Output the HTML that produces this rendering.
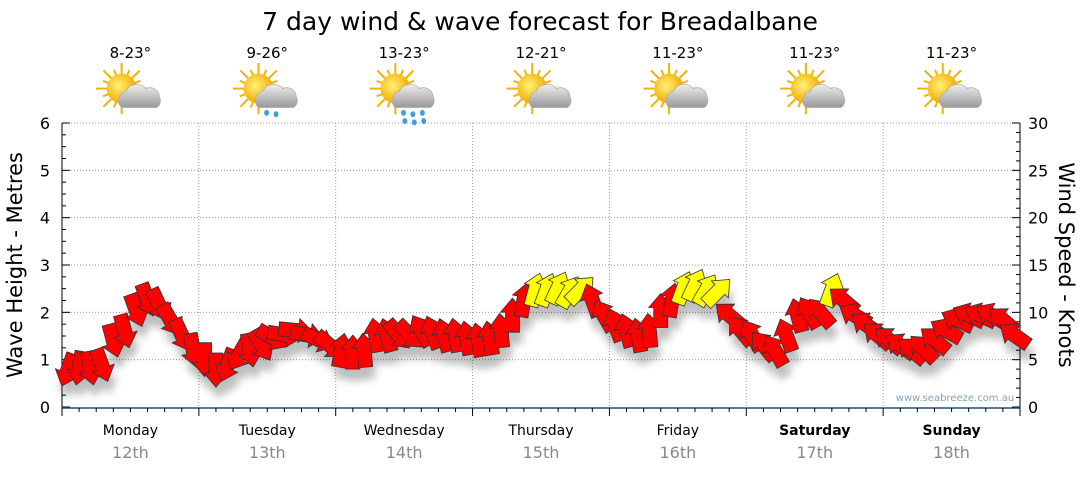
<!DOCTYPE html>
<html><head><meta charset="utf-8"><style>
body{margin:0;background:#fff;}
svg text{font-family:"DejaVu Sans","Liberation Sans",sans-serif;}
</style></head><body>
<svg id="chart" width="1080" height="475" viewBox="0 0 1080 475" xmlns="http://www.w3.org/2000/svg">
<defs>
<filter id="sh" x="-50%" y="-50%" width="200%" height="200%"><feGaussianBlur stdDeviation="4"/></filter>
<radialGradient id="sun" cx="0.4" cy="0.4" r="0.6"><stop offset="0" stop-color="#fff27a"/><stop offset="1" stop-color="#f2a900"/></radialGradient>
<linearGradient id="cloud" x1="0" y1="0" x2="0" y2="1"><stop offset="0" stop-color="#eee"/><stop offset="1" stop-color="#999"/></linearGradient>
</defs>
<text x="540" y="30" font-size="25" text-anchor="middle" fill="#000">7 day wind &amp; wave forecast for Breadalbane</text>
<g id="grid"></g>
<g id="axes"></g>
<g id="shadows" filter="url(#sh)" opacity="0.25"></g>
<g id="arrows"></g>
<g id="days"></g>
<text x="955" y="401" font-size="10" text-anchor="middle" fill="#8aa0b8">www.seabreeze.com.au</text>
<text transform="translate(22,265) rotate(-90)" font-size="21" text-anchor="middle" fill="#000">Wave Height - Metres</text>
<text transform="translate(1059,265) rotate(90)" font-size="21" text-anchor="middle" fill="#000">Wind Speed - Knots</text>
</svg>
<script>
const dayNames=["Monday","Tuesday","Wednesday","Thursday","Friday","Saturday","Sunday"];
const dayDates=["12th","13th","14th","15th","16th","17th","18th"];
const temps=["8-23°","9-26°","13-23°","12-21°","11-23°","11-23°","11-23°"];
const icons=["cloud","shower","rain","cloud","cloud","cloud","cloud"];
const waveTicks=[0,1,2,3,4,5,6];
const windTicks=[0,5,10,15,20,25,30];
// wind speed (knots), every 2 hours
const windSpeed=[
3.9,4.1,4.1,4.4,7,8,10.2,11.3,10.8,9.2,7.6,6,
5,3.9,4.4,5.5,6,6.5,7.3,7.6,8.1,7.6,7.1,6.5,
6,5.8,6,7.6,7.6,7.6,7.6,8.1,7.9,7.6,7.6,7.3,
7.1,7.3,8.1,9.7,11.3,12.4,12.4,12.6,12.2,12.4,11.3,9.7,
8.7,8.1,7.6,8.1,10.2,11.3,12.6,12.9,12.4,12.2,9.7,8.1,
7.6,6.5,6,7.6,9.7,10,10,12.4,11.3,9.7,8.7,7.6,
7.1,6.5,6,6.2,7.1,8.1,9.2,9.7,9.7,9.7,9.2,7.6];
// arrow heading (degrees clockwise from up)
const windDir=[
200,190,170,160,165,165,160,160,155,150,155,170,
180,180,200,210,170,150,120,100,95,100,115,130,
10,0,355,350,345,140,135,330,340,345,350,350,
350,350,355,0,10,15,20,25,30,45,340,330,
340,345,350,355,0,10,20,25,30,45,310,320,
330,320,330,340,345,330,320,20,310,300,305,310,
310,305,310,315,310,300,295,295,295,300,310,305];
const X0=62,X1=1020,Y0=407,Y1=123,HOURS=168;
const NS="http://www.w3.org/2000/svg";
function xH(h){return X0+h/HOURS*(X1-X0);}
function yWave(m){return Y0-m/6*(Y0-Y1);}
function yWind(k){return Y0-k/30*(Y0-Y1);}
function mk(tag,attrs,parent){const e=document.createElementNS(NS,tag);for(const k in attrs)e.setAttribute(k,attrs[k]);parent.appendChild(e);return e;}
const grid=document.getElementById('grid'),axes=document.getElementById('axes'),days=document.getElementById('days');
waveTicks.forEach(v=>{
 if(v>0){const l=mk('line',{x1:X0,x2:X1,y1:yWave(v),y2:yWave(v),stroke:'#999','stroke-dasharray':'1,2'},grid);
 
 }
 const t=mk('text',{x:X0-12,y:yWave(v)+6,'font-size':16,'text-anchor':'end',fill:'#000'},axes);t.textContent=v;
 
 
});
for(let i=0;i<=24;i++){const y=Y0-i*(Y0-Y1)/24;mk('line',{x1:X0,x2:X0+(i%4?4:8),y1:y,y2:y,stroke:'#000'},axes);}
for(let i=0;i<=30;i++){const y=yWind(i);mk('line',{x1:X1,x2:X1-(i%5?4:8),y1:y,y2:y,stroke:'#000'},axes);}
windTicks.forEach(v=>{const t=mk('text',{x:X1+8,y:yWind(v)+6,'font-size':16,fill:'#000'},axes);t.textContent=v;
 
 });
mk('line',{x1:X0,x2:X0,y1:Y1,y2:Y0+7,stroke:'#000'},axes);
mk('line',{x1:X1,x2:X1,y1:Y1,y2:Y0+7,stroke:'#000'},axes);
mk('line',{x1:X0,x2:X1,y1:Y0+1,y2:Y0+1,stroke:'#1f4e79','stroke-width':1.5},axes);
for(let h=0;h<=HOURS;h+=3){const x=xH(h);const major=h%24==0;
 mk('line',{x1:x,x2:x,y1:Y0+1,y2:Y0+(major?9:5),stroke:'#000'},axes);
 if(major&&h>0&&h<HOURS)mk('line',{x1:x,x2:x,y1:Y1,y2:Y0,stroke:'#999','stroke-dasharray':'1,2'},grid);}
dayNames.forEach((d,i)=>{const cx=xH(i*24+12);
 const t=mk('text',{x:cx,y:435,'font-size':14,'text-anchor':'middle',fill:'#000','font-weight':i>=5?'bold':'normal'},days);t.textContent=d;
 
 
 const t2=mk('text',{x:cx,y:458,'font-size':16,'text-anchor':'middle',fill:'#888'},days);t2.textContent=dayDates[i];
 
 
 const t3=mk('text',{x:cx,y:58,'font-size':15,'text-anchor':'middle',fill:'#000'},days);t3.textContent=temps[i];
 
 
 const g=mk('g',{transform:`translate(${cx+2},94) scale(1.35)`},days);
 
 
 for(let r=0;r<16;r++){const a=r*Math.PI/8;const L=r%2?15:19;mk('line',{x1:-8+Math.cos(a)*9,y1:-4+Math.sin(a)*9,x2:-8+Math.cos(a)*L,y2:-4+Math.sin(a)*L,stroke:'#f4b400','stroke-width':1.5},g);}
 mk('circle',{cx:-8,cy:-4,r:11,fill:'url(#sun)'},g);
 mk('path',{d:'M-8,10 a7,7 0 0 1 3,-12 a9,9 0 0 1 15,-2 a7,7 0 0 1 10,6 a6,6 0 0 1 -2,8 z',fill:'url(#cloud)',stroke:'#aaa','stroke-width':0.5},g);
 if(icons[i]!=='cloud'){[[-2,14],[5,15],[12,14]].forEach((p,j)=>{if(icons[i]==='shower'&&j==2)return;mk('ellipse',{cx:p[0],cy:p[1],rx:1.8,ry:2.2,fill:'#3aa0e0'},g);if(icons[i]==='rain')mk('ellipse',{cx:p[0]+1,cy:p[1]+6,rx:1.8,ry:2.2,fill:'#3aa0e0'},g);});}
});
const ARROW="-7,17 7,17 7,-3 12,-3 0,-17 -12,-3 -7,-3";
const sh=document.getElementById('shadows'),ar=document.getElementById('arrows');
windSpeed.forEach((k,i)=>{const x=xH(i*2+1),y=yWind(k);
 mk('polygon',{points:ARROW,transform:`translate(${x+3},${y+12}) rotate(${windDir[i]})`,fill:'#000'},sh);
 const p=mk('polygon',{points:ARROW,transform:`translate(${x},${y}) rotate(${windDir[i]})`,fill:k>=12?'#ffff00':'#ff0000',stroke:'#333','stroke-width':0.8},ar);
 
 
});
</script>
</body></html>
